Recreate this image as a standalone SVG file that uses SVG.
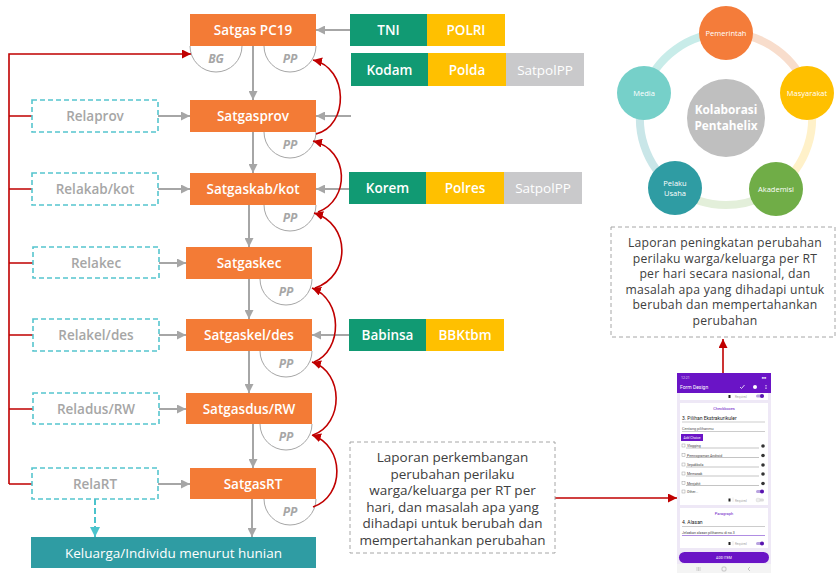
<svg xmlns="http://www.w3.org/2000/svg" width="837" height="574" viewBox="0 0 837 574">
<style>
.sat{fill:#F37B36}
.sat-t{font-family:"Open Sans","Noto Sans",sans-serif;font-size:13.5px;font-weight:600;fill:#fff;text-anchor:middle}
.rela{fill:#fff;stroke:#56C5CE;stroke-width:1.6;stroke-dasharray:5 3}
.rela-t{font-family:"Open Sans","Noto Sans",sans-serif;font-size:13.5px;font-weight:600;fill:#A6A6A6;text-anchor:middle}
.pp{fill:#fff;stroke:#A6A6A6;stroke-width:1}
.pp-t{font-family:"Open Sans","Noto Sans",sans-serif;font-size:12px;font-weight:700;font-style:italic;fill:#A6A6A6;text-anchor:middle}
.g{fill:#119A73}.y{fill:#FFC000}.s{fill:#C9C9CB}
.ag-t{font-family:"Open Sans","Noto Sans",sans-serif;font-size:13.5px;font-weight:600;fill:#fff;text-anchor:middle}
.gl{stroke:#A6A6A6;stroke-width:2;fill:none}
.rl{stroke:#C00000;stroke-width:1.6;fill:none}
.rep{fill:#fff;stroke:#A6A6A6;stroke-width:1;stroke-dasharray:4 3}
.rep-t{font-family:"Open Sans","Noto Sans",sans-serif;font-size:13.5px;fill:#404040;text-anchor:middle}
.rep-n{font-family:"Open Sans","Noto Sans",sans-serif;font-size:12.2px;letter-spacing:0.25px;fill:#404040;text-anchor:middle}
.ph{font-family:"Roboto","Noto Sans",sans-serif}
.ci-t{font-family:"Open Sans","Noto Sans",sans-serif;font-size:7.5px;fill:#fff;text-anchor:middle}
.ko-t{font-family:"Open Sans","Noto Sans",sans-serif;font-size:11.8px;font-weight:700;fill:#fff;text-anchor:middle}
</style>
<defs>
<marker id="ag" viewBox="0 0 10 10" refX="10" refY="5" markerWidth="9" markerHeight="9" markerUnits="userSpaceOnUse" orient="auto"><path d="M0,0 L10,5 L0,10 z" fill="#A6A6A6"/></marker>
<marker id="ar" viewBox="0 0 10 10" refX="10" refY="5" markerWidth="9" markerHeight="9" markerUnits="userSpaceOnUse" orient="auto"><path d="M0,0 L10,5 L0,10 z" fill="#C00000"/></marker>
<marker id="at" viewBox="0 0 10 10" refX="10" refY="5" markerWidth="10" markerHeight="10" markerUnits="userSpaceOnUse" orient="auto"><path d="M0,0 L10,5 L0,10 z" fill="#4BC3CC"/></marker>
</defs>
<rect width="837" height="574" fill="#fff"/>

<!-- PP / BG arcs -->
<g id="pp-arcs">
<path class="pp" d="M190,46 A26,26 0 0 0 242,46"/>
<text class="pp-t" x="216" y="63">BG</text>
<path class="pp" d="M264,46 A26,26 0 0 0 316,46"/>
<text class="pp-t" x="290" y="63">PP</text>
<path class="pp" d="M264,132 A26,26 0 0 0 316,132"/>
<text class="pp-t" x="290" y="149">PP</text>
<path class="pp" d="M264,205 A26,26 0 0 0 316,205"/>
<text class="pp-t" x="290" y="222">PP</text>
<path class="pp" d="M260,279 A26,26 0 0 0 312,279"/>
<text class="pp-t" x="286" y="296">PP</text>
<path class="pp" d="M260,351 A26,26 0 0 0 312,351"/>
<text class="pp-t" x="286" y="368">PP</text>
<path class="pp" d="M260,424 A26,26 0 0 0 312,424"/>
<text class="pp-t" x="286" y="441">PP</text>
<path class="pp" d="M264,499 A26,26 0 0 0 316,499"/>
<text class="pp-t" x="290" y="516">PP</text>
</g>

<!-- connectors -->
<g id="connectors">
<line class="gl" x1="253" y1="46" x2="253" y2="100" marker-end="url(#ag)"/>
<line class="gl" x1="253" y1="132" x2="253" y2="173" marker-end="url(#ag)"/>
<line class="gl" x1="249" y1="205" x2="249" y2="247" marker-end="url(#ag)"/>
<line class="gl" x1="249" y1="279" x2="249" y2="319" marker-end="url(#ag)"/>
<line class="gl" x1="249" y1="351" x2="249" y2="393" marker-end="url(#ag)"/>
<line class="gl" x1="253" y1="424" x2="253" y2="468" marker-end="url(#ag)"/>
<line class="gl" x1="252" y1="499" x2="252" y2="537" marker-end="url(#ag)"/>

<line class="gl" x1="158" y1="116" x2="190" y2="116" marker-end="url(#ag)"/>
<line class="gl" x1="158" y1="189" x2="190" y2="189" marker-end="url(#ag)"/>
<line class="gl" x1="159" y1="263" x2="186" y2="263" marker-end="url(#ag)"/>
<line class="gl" x1="159" y1="335" x2="186" y2="335" marker-end="url(#ag)"/>
<line class="gl" x1="159" y1="409" x2="186" y2="409" marker-end="url(#ag)"/>
<line class="gl" x1="158" y1="484" x2="190" y2="484" marker-end="url(#ag)"/>

<line class="gl" x1="350" y1="30" x2="316" y2="30" marker-end="url(#ag)"/>
<line class="gl" x1="351" y1="116" x2="316" y2="116" marker-end="url(#ag)"/>
<line class="gl" x1="349" y1="189" x2="316" y2="189" marker-end="url(#ag)"/>
<line class="gl" x1="349" y1="335" x2="312" y2="335" marker-end="url(#ag)"/>

<line x1="95" y1="499" x2="95" y2="537" stroke="#4BC3CC" stroke-width="2" stroke-dasharray="6 3" marker-end="url(#at)"/>

<path class="rl" d="M9,484 L9,54 L191,54" marker-end="url(#ar)"/>
<path class="rl" d="M9,116 H32 M9,189 H32 M9,263 H33 M9,335 H33 M9,409 H33 M9,484 H32"/>

<path class="rl" d="M316,134 C349,126 349,68 313,60" marker-end="url(#ar)"/>
<path class="rl" d="M318,212 C350,200 350,150 313,141" marker-end="url(#ar)"/>
<path class="rl" d="M315,288 C351,276 351,224 314,213" marker-end="url(#ar)"/>
<path class="rl" d="M314,362 C343,350 343,300 312,288" marker-end="url(#ar)"/>
<path class="rl" d="M313,435 C344,424 344,372 312,362" marker-end="url(#ar)"/>
<path class="rl" d="M313,507 C345,496 345,446 312,435" marker-end="url(#ar)"/>

<line class="rl" x1="555" y1="498" x2="677" y2="498" marker-end="url(#ar)"/>
<line class="rl" x1="723" y1="373" x2="723" y2="339" marker-end="url(#ar)"/>
</g>

<!-- Satgas nodes -->
<g id="satgas-pc19"><rect class="sat" x="190" y="14" width="126" height="32"/><text class="sat-t" x="253" y="35">Satgas PC19</text></g>
<g id="satgasprov"><rect class="sat" x="190" y="100" width="126" height="32"/><text class="sat-t" x="253" y="121">Satgasprov</text></g>
<g id="satgaskab"><rect class="sat" x="190" y="173" width="126" height="32"/><text class="sat-t" x="253" y="194">Satgaskab/kot</text></g>
<g id="satgaskec"><rect class="sat" x="186" y="247" width="126" height="32"/><text class="sat-t" x="249" y="268">Satgaskec</text></g>
<g id="satgaskel"><rect class="sat" x="186" y="319" width="126" height="32"/><text class="sat-t" x="249" y="340">Satgaskel/des</text></g>
<g id="satgasdus"><rect class="sat" x="186" y="393" width="126" height="31"/><text class="sat-t" x="249" y="413.5">Satgasdus/RW</text></g>
<g id="satgasrt"><rect class="sat" x="190" y="468" width="126" height="31"/><text class="sat-t" x="253" y="488.5">SatgasRT</text></g>

<!-- Rela nodes -->
<g id="relaprov"><rect class="rela" x="32" y="100" width="126" height="32"/><text class="rela-t" x="95" y="121">Relaprov</text></g>
<g id="relakab"><rect class="rela" x="32" y="173" width="126" height="32"/><text class="rela-t" x="95" y="194">Relakab/kot</text></g>
<g id="relakec"><rect class="rela" x="33" y="247" width="126" height="31"/><text class="rela-t" x="96" y="267.5">Relakec</text></g>
<g id="relakel"><rect class="rela" x="33" y="319" width="126" height="32"/><text class="rela-t" x="96" y="340">Relakel/des</text></g>
<g id="reladus"><rect class="rela" x="33" y="393" width="126" height="31"/><text class="rela-t" x="96" y="413.5">Reladus/RW</text></g>
<g id="relart"><rect class="rela" x="32" y="468" width="126" height="31"/><text class="rela-t" x="95" y="488.5">RelaRT</text></g>

<g id="keluarga"><rect x="31" y="537" width="285" height="31" fill="#2F9CA3"/><text class="sat-t" x="173.5" y="557.5" style="font-weight:400">Keluarga/Individu menurut hunian</text></g>

<!-- apparatus nodes -->
<g id="tni"><rect class="g" x="350" y="14" width="77" height="32"/><text class="ag-t" x="388.5" y="35">TNI</text></g>
<g id="polri"><rect class="y" x="427" y="14" width="78" height="32"/><text class="ag-t" x="466" y="35">POLRI</text></g>
<g id="kodam"><rect class="g" x="351" y="53" width="77" height="33"/><text class="ag-t" x="389.5" y="74.5">Kodam</text></g>
<g id="polda"><rect class="y" x="428" y="53" width="78" height="33"/><text class="ag-t" x="467" y="74.5">Polda</text></g>
<g id="satpol1"><rect class="s" x="506" y="53" width="78" height="33"/><text class="ag-t" x="545" y="74.5" style="font-weight:400">SatpolPP</text></g>
<g id="korem"><rect class="g" x="349" y="172" width="77" height="32"/><text class="ag-t" x="387.5" y="193">Korem</text></g>
<g id="polres"><rect class="y" x="426" y="172" width="78" height="32"/><text class="ag-t" x="465" y="193">Polres</text></g>
<g id="satpol2"><rect class="s" x="504" y="172" width="78" height="32"/><text class="ag-t" x="543" y="193" style="font-weight:400">SatpolPP</text></g>
<g id="babinsa"><rect class="g" x="349" y="319" width="77" height="32"/><text class="ag-t" x="387.5" y="340">Babinsa</text></g>
<g id="bbktbm"><rect class="y" x="426" y="319" width="78" height="32"/><text class="ag-t" x="465" y="340">BBKtbm</text></g>

<!-- report boxes -->
<g id="laporan-rt">
<rect class="rep" x="350" y="442" width="205" height="111"/>
<text class="rep-t" x="452.5" y="462">Laporan perkembangan</text>
<text class="rep-t" x="452.5" y="478.5">perubahan perilaku</text>
<text class="rep-t" x="452.5" y="495">warga/keluarga per RT per</text>
<text class="rep-t" x="452.5" y="511.5">hari, dan masalah apa yang</text>
<text class="rep-t" x="452.5" y="528">dihadapi untuk berubah dan</text>
<text class="rep-t" x="452.5" y="544.5">mempertahankan perubahan</text>
</g>
<g id="laporan-nasional">
<rect class="rep" x="611" y="227" width="224" height="110"/>
<text class="rep-n" x="725" y="247">Laporan peningkatan perubahan</text>
<text class="rep-n" x="725" y="262.6">perilaku warga/keluarga per RT</text>
<text class="rep-n" x="725" y="278.2">per hari secara nasional, dan</text>
<text class="rep-n" x="725" y="293.8">masalah apa yang dihadapi untuk</text>
<text class="rep-n" x="725" y="309.4">berubah dan mempertahankan</text>
<text class="rep-n" x="725" y="325">perubahan</text>
</g>

<!-- phone screenshot -->
<g id="phone" class="ph">
<rect x="677" y="373" width="94" height="200" fill="#EEE8F6"/>
<rect x="677" y="373" width="94" height="20" fill="#6A14C6"/>
<text x="681" y="378.5" font-size="3.5" fill="#E8DDF8">12:21</text>
<text x="766" y="378.5" font-size="3.5" fill="#E8DDF8" text-anchor="end">■■</text>
<text x="680" y="389" font-size="5" fill="#fff">Form Design</text>
<path d="M740,387 l1.5,1.5 l3,-3.5" stroke="#fff" stroke-width="0.8" fill="none"/>
<circle cx="755" cy="387" r="2" fill="#fff"/>
<circle cx="766" cy="385.5" r="0.6" fill="#fff"/><circle cx="766" cy="387" r="0.6" fill="#fff"/><circle cx="766" cy="388.5" r="0.6" fill="#fff"/>
<rect x="680" y="393" width="88" height="7" fill="#fff"/>
<rect x="728.5" y="395" width="2" height="3" fill="#222"/>
<text x="735" y="398" font-size="3" fill="#AAA">Required</text>
<rect x="756" y="394.5" width="8" height="3" rx="1.5" fill="#B9A3E0"/><circle cx="762" cy="396" r="2" fill="#5A14B0"/>

<rect x="680" y="403" width="88" height="102" fill="#fff"/>
<text x="724" y="410" font-size="4" fill="#6A14C6" text-anchor="middle">Checkboxes</text>
<text x="682" y="419.5" font-size="5" fill="#222">3. Pilihan Ekstrakurikuler</text>
<line x1="682" y1="422" x2="765" y2="422" stroke="#999" stroke-width="0.5"/>
<text x="682" y="429.5" font-size="3.8" fill="#555">Centang pilihanmu</text>
<line x1="682" y1="431.5" x2="765" y2="431.5" stroke="#999" stroke-width="0.5"/>
<rect x="681" y="434" width="22" height="7" fill="#6A14C6"/>
<text x="692" y="439" font-size="3.3" fill="#fff" text-anchor="middle">Add Choice</text>
<g font-size="3.5" fill="#444">
<rect x="682" y="444" width="3" height="3" fill="none" stroke="#888" stroke-width="0.4"/><text x="687" y="447">Vlogging</text><line x1="686" y1="448" x2="759" y2="448" stroke="#888" stroke-width="0.5"/><circle cx="763" cy="446" r="1.8" fill="#333"/>
<rect x="682" y="453.5" width="3" height="3" fill="none" stroke="#888" stroke-width="0.4"/><text x="687" y="456.5">Pemrograman Android</text><line x1="686" y1="457.5" x2="759" y2="457.5" stroke="#888" stroke-width="0.5"/><circle cx="763" cy="455.5" r="1.8" fill="#333"/>
<rect x="682" y="463" width="3" height="3" fill="none" stroke="#888" stroke-width="0.4"/><text x="687" y="466">Sepakbola</text><line x1="686" y1="467" x2="759" y2="467" stroke="#888" stroke-width="0.5"/><circle cx="763" cy="465" r="1.8" fill="#333"/>
<rect x="682" y="472" width="3" height="3" fill="none" stroke="#888" stroke-width="0.4"/><text x="687" y="475">Memasak</text><line x1="686" y1="476" x2="759" y2="476" stroke="#888" stroke-width="0.5"/><circle cx="763" cy="474" r="1.8" fill="#333"/>
<rect x="682" y="481.5" width="3" height="3" fill="none" stroke="#888" stroke-width="0.4"/><text x="687" y="484.5">Menjahit</text><line x1="686" y1="485.5" x2="759" y2="485.5" stroke="#888" stroke-width="0.5"/><circle cx="763" cy="483.5" r="1.8" fill="#333"/>
<rect x="682" y="490" width="3" height="3" fill="none" stroke="#888" stroke-width="0.4"/><text x="687" y="493">Other...</text>
</g>
<rect x="756" y="490" width="8" height="3" rx="1.5" fill="#B9A3E0"/><circle cx="762" cy="491.5" r="2" fill="#5A14B0"/>
<rect x="728.5" y="498.5" width="2" height="3" fill="#222"/>
<line x1="733" y1="497.5" x2="733" y2="502" stroke="#CCC" stroke-width="0.4"/>
<text x="735" y="501.5" font-size="3" fill="#AAA">Required</text>
<rect x="756" y="498.5" width="8" height="3" rx="1.5" fill="#DDD"/><circle cx="758" cy="500" r="2" fill="#EEE" stroke="#CCC" stroke-width="0.3"/>

<rect x="680" y="508" width="88" height="40" fill="#fff"/>
<text x="724" y="514.5" font-size="4" fill="#6A14C6" text-anchor="middle">Paragraph</text>
<text x="682" y="524" font-size="5" fill="#222">4. Alasan</text>
<line x1="682" y1="526.5" x2="765" y2="526.5" stroke="#999" stroke-width="0.5"/>
<text x="682" y="533.5" font-size="3.5" fill="#444">Jelaskan alasan pilihanmu di no.3</text>
<line x1="682" y1="535.5" x2="765" y2="535.5" stroke="#7A3FD0" stroke-width="0.6"/>
<rect x="728.5" y="542" width="2" height="3" fill="#222"/>
<line x1="733" y1="541" x2="733" y2="545.5" stroke="#CCC" stroke-width="0.4"/>
<text x="735" y="545" font-size="3" fill="#AAA">Required</text>
<rect x="756" y="542" width="8" height="3" rx="1.5" fill="#B9A3E0"/><circle cx="762" cy="543.5" r="2" fill="#5A14B0"/>

<rect x="679" y="552" width="90" height="11" rx="5.5" fill="#6A14C6"/>
<text x="724" y="559" font-size="3.5" fill="#fff" text-anchor="middle">ADD ITEM</text>
<rect x="677" y="564" width="94" height="9" fill="#F4F4F4"/>
<path d="M697,567 v4 M698.5,567 v4 M700,567 v4" stroke="#999" stroke-width="0.4"/>
<rect x="722" y="567" width="4" height="4" rx="1" fill="none" stroke="#999" stroke-width="0.5"/>
<path d="M750,567 l-2,2 l2,2" stroke="#999" stroke-width="0.5" fill="none"/>
</g>

<!-- pentahelix -->
<g id="pentahelix-ring" fill="none" stroke-width="8">
<path d="M726,33 A86,86 0 0 1 807.8,92.4" stroke="#F8DDCC"/>
<path d="M807.8,92.4 A86,86 0 0 1 776.6,188.6" stroke="#FFF1C9"/>
<path d="M776.6,188.6 A86,86 0 0 1 675.4,188.6" stroke="#E3EFDA"/>
<path d="M675.4,188.6 A86,86 0 0 1 644.2,92.4" stroke="#C9E6E8"/>
<path d="M644.2,92.4 A86,86 0 0 1 726,33" stroke="#C8ECE9"/>
</g>
<g id="kolaborasi"><circle cx="726" cy="118" r="39" fill="#BFBFBF"/><text class="ko-t" x="726" y="114">Kolaborasi</text><text class="ko-t" x="726" y="130">Pentahelix</text></g>
<g id="pemerintah"><circle cx="726" cy="33" r="27" fill="#F47C3A"/><text class="ci-t" x="726" y="36">Pemerintah</text></g>
<g id="masyarakat"><circle cx="807" cy="93" r="27" fill="#FFC000"/><text class="ci-t" x="807" y="96">Masyarakat</text></g>
<g id="akademisi"><circle cx="776" cy="189" r="27" fill="#70AD47"/><text class="ci-t" x="776" y="192">Akademisi</text></g>
<g id="pelaku-usaha"><circle cx="675" cy="188" r="27" fill="#2F9CA3"/><text class="ci-t" x="675" y="186">Pelaku</text><text class="ci-t" x="675" y="195.5">Usaha</text></g>
<g id="media"><circle cx="644" cy="93" r="27" fill="#76D0C9"/><text class="ci-t" x="644" y="96">Media</text></g>
</svg>
